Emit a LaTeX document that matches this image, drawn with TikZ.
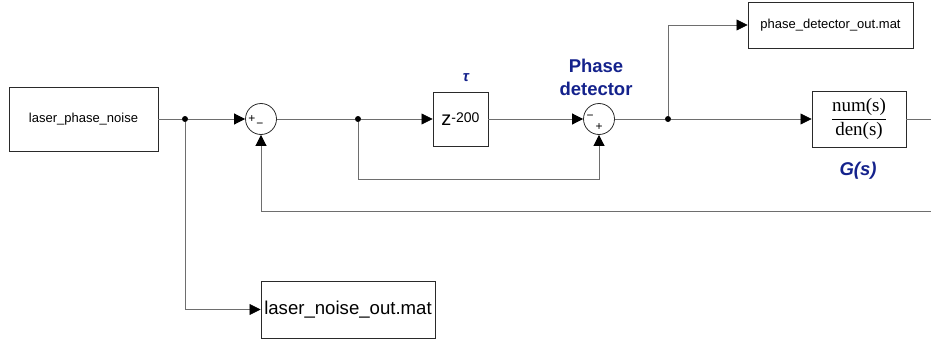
\documentclass[tikz,border=0pt]{standalone}
\usepackage{fontspec}
\setmainfont{Liberation Sans}
\newfontfamily\timesfont{Liberation Serif}
\usetikzlibrary{arrows.meta,calc,shadows}
\definecolor{Navy}{HTML}{14228C}
\definecolor{Wire}{HTML}{6E6E6E}
\definecolor{Edge}{HTML}{2A2A2A}

\begin{document}
\begin{tikzpicture}[x=1pt,y=-1pt,>={Triangle[length=11pt,width=11pt,color=black]},
 block/.style={draw=Edge,line width=0.9pt,fill=white,align=center,inner sep=0pt,drop shadow={shadow xshift=1pt,shadow yshift=-1pt,fill=black!35,opacity=1}},
 sumnode/.style={circle,draw=Edge,line width=0.8pt,minimum size=31pt,inner sep=0pt},
 sign/.style={font=\fontsize{12}{12}\selectfont,inner sep=0pt},
 dot/.style={circle,fill=black,minimum size=6pt,inner sep=0pt},
 wire/.style={draw=Wire,line width=0.7pt},
 flow/.style={wire,->},
 tag/.style={text=Navy,font=\bfseries\fontsize{18.5}{23}\selectfont,align=center}]
 \useasboundingbox (0,0) rectangle (931,345);
 % blocks
 \node[block,minimum width=149pt,minimum height=64pt,font=\fontsize{13}{15}\selectfont] (src) at (83.5,119) {laser\_phase\_noise};
 \node[sumnode] (sumA) at (261,119) {};
 \node[sign] (sA1) at ($(sumA)+(-9,0)$) {+};
 \node[sign] (sA2) at ($(sumA)+(-1,6)$) {−};
 \node[block,minimum width=55pt,minimum height=54pt] (delay) at (460.5,119) {{\fontsize{20}{20}\selectfont z}\raisebox{3pt}{\fontsize{14}{14}\selectfont -200}};
 \node[sumnode] (sumB) at (599,119) {};
 \node[sign] (sB1) at ($(sumB)+(-9,-2)$) {−};
 \node[sign] (sB2) at ($(sumB)+(0,8)$) {+};
 \node[block,minimum width=165pt,minimum height=46pt,font=\fontsize{13}{15}\selectfont] (scope) at (830.5,25) {phase\_detector\_out.mat};
 \node[block,minimum width=94pt,minimum height=56pt,font=\timesfont\fontsize{19}{19}\selectfont] (plant) at (859,119) {$\displaystyle\frac{\hbox{\timesfont num(s)}}{\hbox{\timesfont den(s)}}$};
 \node[block,minimum width=174pt,minimum height=57pt,font=\fontsize{18.6}{20}\selectfont] (noiseout) at (348,309.5) {laser\_noise\_out.mat};
 % labels
 \node[text=Navy,font=\bfseries\itshape\fontsize{15}{15}\selectfont] (taulabel) at (466,78) {τ};
 \node[tag] (pdlabel) at (596,77) {Phase\\detector};
 \node[tag,font=\bfseries\itshape\fontsize{18.5}{20}\selectfont] (glabel) at (858,171) {G(s)};
 % branch points and loose ends
 \node[dot] (j1) at (185,119) {};
 \node[dot] (j2) at (358,119) {};
 \node[dot] (j3) at (668,119) {};
 \coordinate (outR) at (931,119);
 \coordinate (fbR) at (931,211);
 % wires
 \draw[wire] (src) -- (j1);
 \draw[flow] (j1) -- (sumA);
 \draw[flow] (j1) |- (noiseout);
 \draw[wire] (sumA) -- (j2);
 \draw[flow] (j2) -- (delay);
 \draw[flow] (j2) -- ++(0,60) -| (sumB);
 \draw[flow] (delay) -- (sumB);
 \draw[wire] (sumB) -- (j3);
 \draw[flow] (j3) |- (scope);
 \draw[flow] (j3) -- (plant);
 \draw[wire] (plant) -- (outR);
 \draw[flow] (fbR) -| (sumA);
\end{tikzpicture}
\end{document}
